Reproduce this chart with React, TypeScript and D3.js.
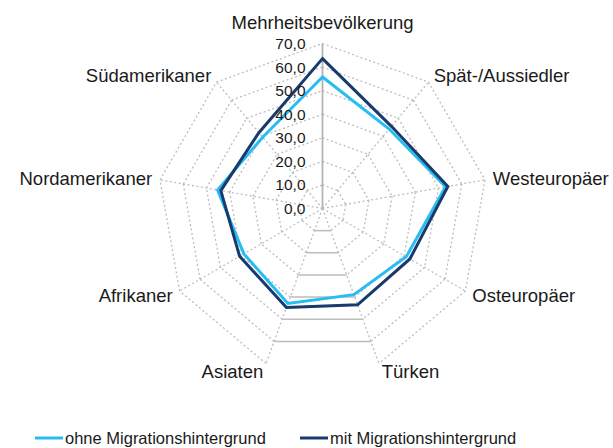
import { useEffect, useRef } from 'react';
import * as d3 from 'd3';

const categories = [
  'Mehrheitsbevölkerung',
  'Spät-/Aussiedler',
  'Westeuropäer',
  'Osteuropäer',
  'Türken',
  'Asiaten',
  'Afrikaner',
  'Nordamerikaner',
  'Südamerikaner',
];
const ohneMigration = [55.8, 44.0, 53.0, 41.0, 38.9, 42.9, 38.5, 45.2, 39.5];
const mitMigration = [63.6, 45.5, 54.0, 42.8, 43.5, 44.7, 40.6, 43.8, 42.0];
const tickValues = [0, 10, 20, 30, 40, 50, 60, 70];
const seriesNames = ['ohne Migrationshintergrund', 'mit Migrationshintergrund'];

const colors = ['#27bdf2', '#183a6c'];
const gridColor = '#bdbdbd';
const font = '"Liberation Sans", Arial, sans-serif';

export default function App() {
  const svgRef = useRef<SVGSVGElement>(null);

  useEffect(() => {
    if (!svgRef.current) return;
    const svg = d3.select(svgRef.current);
    svg.selectAll('*').remove();

    const cx = 322.5;
    const cy = 208.5;
    const r = d3.scaleLinear().domain([0, 70]).range([0, 165]);
    const n = categories.length;
    const angle = (i: number) => (i * 2 * Math.PI) / n;
    const pt = (i: number, v: number): [number, number] => [
      cx + r(v) * Math.sin(angle(i)),
      cy - r(v) * Math.cos(angle(i)),
    ];

    const g = svg.append('g');

    // grid rings (Excel draws the Türken-Asiaten piece solid)
    tickValues.slice(1).forEach(t => {
      for (let i = 0; i < n; i++) {
        const a = pt(i, t);
        const b = pt((i + 1) % n, t);
        const bottom = i === 4;
        if (bottom && t === 70) continue;
        g.append('line')
          .attr('x1', a[0])
          .attr('y1', a[1])
          .attr('x2', b[0])
          .attr('y2', b[1])
          .attr('stroke', gridColor)
          .attr('stroke-width', bottom ? 1.5 : 1.3)
          .attr('stroke-dasharray', bottom ? null : '2,2.5');
      }
    });

    // spokes
    categories.forEach((_, i) => {
      const e = pt(i, 70);
      g.append('line')
        .attr('x1', cx)
        .attr('y1', cy)
        .attr('x2', e[0])
        .attr('y2', e[1])
        .attr('stroke', i === 0 ? '#b3b3b3' : gridColor)
        .attr('stroke-width', i === 0 ? 1.8 : 1.3)
        .attr('stroke-dasharray', i === 0 ? null : '2,2.5');
    });

    // series
    const radial = d3
      .lineRadial<number>()
      .angle((_, i) => angle(i))
      .radius(d => r(d))
      .curve(d3.curveLinearClosed);

    [ohneMigration, mitMigration].forEach((vals, k) => {
      g.append('path')
        .attr('transform', `translate(${cx},${cy})`)
        .attr('d', radial(vals))
        .attr('fill', 'none')
        .attr('stroke', colors[k])
        .attr('stroke-width', 3)
        .attr('stroke-linejoin', 'miter');
    });

    // category labels
    categories.forEach((c, i) => {
      const a = angle(i);
      const s = Math.sin(a);
      const [x, y] = pt(i, 70);
      const off = 8;
      const lx = x + off * s;
      const ly = y - off * Math.cos(a);
      const t = g
        .append('text')
        .attr('x', lx)
        .attr('font-family', font)
        .attr('font-size', 18.5)
        .attr('fill', '#1a1a1a')
        .text(c);
      if (i === 0) {
        t.attr('y', cy - r(70) - 15).attr('text-anchor', 'middle');
      } else {
        t.attr('y', ly)
          .attr('dominant-baseline', 'central')
          .attr('text-anchor', s > 0.1 ? 'start' : s < -0.1 ? 'end' : 'middle');
      }
    });

    // value axis ticks
    tickValues.forEach(t => {
      g.append('text')
        .attr('x', cx - 17)
        .attr('y', cy - r(t))
        .attr('dominant-baseline', 'central')
        .attr('text-anchor', 'end')
        .attr('font-family', font)
        .attr('font-size', 15.5)
        .attr('fill', '#1a1a1a')
        .text(d3.format('.1f')(t).replace('.', ','));
    });

    // legend
    const legendX = [35, 300];
    seriesNames.forEach((name, k) => {
      g.append('line')
        .attr('x1', legendX[k])
        .attr('x2', legendX[k] + 28)
        .attr('y1', 438)
        .attr('y2', 438)
        .attr('stroke', colors[k])
        .attr('stroke-width', 3);
      g.append('text')
        .attr('x', legendX[k] + 30)
        .attr('y', 438)
        .attr('dominant-baseline', 'central')
        .attr('font-family', font)
        .attr('font-size', 16.5)
        .attr('fill', '#1a1a1a')
        .text(name);
    });
  }, []);

  return (
    <svg
      ref={svgRef}
      width={613}
      height={448}
      style={{ position: 'absolute', left: 0, top: 0, background: '#fff' }}
    />
  );
}
